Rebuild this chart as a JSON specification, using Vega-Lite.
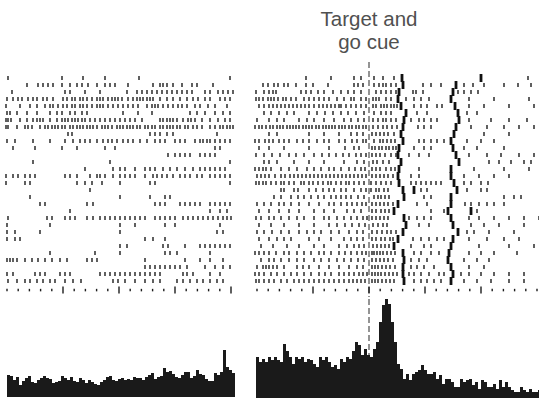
{
"$schema": "https://vega.github.io/schema/vega-lite/v6.json",
"padding": {"left": 5, "top": 0, "right": 0, "bottom": 1},
"background": "white",
"spacing": 18,
"config": {"view": {"stroke": null}},
"datasets": {
"L": [
{"r":1,"t":3},{"r":1,"t":57},{"r":1,"t":78},{"r":1,"t":100},{"r":1,"t":134},{"r":1,"t":225},
{"r":2,"t":22},{"r":2,"t":33},{"r":2,"t":38},{"r":2,"t":43},{"r":2,"t":48},{"r":2,"t":57},{"r":2,"t":65},{"r":2,"t":72},{"r":2,"t":77},{"r":2,"t":83},{"r":2,"t":92},{"r":2,"t":100},{"r":2,"t":105},{"r":2,"t":110},{"r":2,"t":123},{"r":2,"t":148},{"r":2,"t":155},{"r":2,"t":158},{"r":2,"t":162},{"r":2,"t":168},{"r":2,"t":177},{"r":2,"t":187},{"r":2,"t":192},{"r":2,"t":208},
{"r":3,"t":7},{"r":3,"t":60},{"r":3,"t":65},{"r":3,"t":80},{"r":3,"t":95},{"r":3,"t":122},{"r":3,"t":132},{"r":3,"t":137},{"r":3,"t":142},{"r":3,"t":147},{"r":3,"t":152},{"r":3,"t":157},{"r":3,"t":162},{"r":3,"t":167},{"r":3,"t":172},{"r":3,"t":177},{"r":3,"t":182},{"r":3,"t":187},{"r":3,"t":200},{"r":3,"t":205},{"r":3,"t":213},{"r":3,"t":218},{"r":3,"t":223},{"r":3,"t":228},
{"r":4,"t":2},{"r":4,"t":8},{"r":4,"t":13},{"r":4,"t":17},{"r":4,"t":23},{"r":4,"t":28},{"r":4,"t":32},{"r":4,"t":38},{"r":4,"t":42},{"r":4,"t":48},{"r":4,"t":58},{"r":4,"t":62},{"r":4,"t":67},{"r":4,"t":70},{"r":4,"t":75},{"r":4,"t":78},{"r":4,"t":82},{"r":4,"t":87},{"r":4,"t":92},{"r":4,"t":95},{"r":4,"t":98},{"r":4,"t":103},{"r":4,"t":107},{"r":4,"t":110},{"r":4,"t":113},{"r":4,"t":117},{"r":4,"t":123},{"r":4,"t":128},{"r":4,"t":132},{"r":4,"t":135},{"r":4,"t":138},{"r":4,"t":142},{"r":4,"t":145},{"r":4,"t":148},{"r":4,"t":155},{"r":4,"t":162},{"r":4,"t":168},{"r":4,"t":175},{"r":4,"t":182},{"r":4,"t":188},{"r":4,"t":193},{"r":4,"t":200},{"r":4,"t":205},{"r":4,"t":215},{"r":4,"t":220},{"r":4,"t":225},
{"r":5,"t":1},{"r":5,"t":15},{"r":5,"t":25},{"r":5,"t":32},{"r":5,"t":40},{"r":5,"t":45},{"r":5,"t":48},{"r":5,"t":53},{"r":5,"t":58},{"r":5,"t":62},{"r":5,"t":67},{"r":5,"t":70},{"r":5,"t":75},{"r":5,"t":78},{"r":5,"t":82},{"r":5,"t":87},{"r":5,"t":92},{"r":5,"t":95},{"r":5,"t":98},{"r":5,"t":103},{"r":5,"t":108},{"r":5,"t":113},{"r":5,"t":118},{"r":5,"t":123},{"r":5,"t":128},{"r":5,"t":133},{"r":5,"t":142},{"r":5,"t":147},{"r":5,"t":150},{"r":5,"t":153},{"r":5,"t":158},{"r":5,"t":163},{"r":5,"t":168},{"r":5,"t":173},{"r":5,"t":177},{"r":5,"t":182},{"r":5,"t":190},{"r":5,"t":195},{"r":5,"t":203},{"r":5,"t":210},{"r":5,"t":222},
{"r":6,"t":2},{"r":6,"t":5},{"r":6,"t":12},{"r":6,"t":22},{"r":6,"t":32},{"r":6,"t":45},{"r":6,"t":52},{"r":6,"t":57},{"r":6,"t":65},{"r":6,"t":70},{"r":6,"t":77},{"r":6,"t":82},{"r":6,"t":118},{"r":6,"t":133},{"r":6,"t":147},{"r":6,"t":185},{"r":6,"t":192},{"r":6,"t":200},{"r":6,"t":210},{"r":6,"t":218},{"r":6,"t":225},
{"r":7,"t":1},{"r":7,"t":3},{"r":7,"t":6},{"r":7,"t":15},{"r":7,"t":22},{"r":7,"t":28},{"r":7,"t":32},{"r":7,"t":35},{"r":7,"t":38},{"r":7,"t":45},{"r":7,"t":52},{"r":7,"t":57},{"r":7,"t":60},{"r":7,"t":63},{"r":7,"t":67},{"r":7,"t":70},{"r":7,"t":73},{"r":7,"t":77},{"r":7,"t":80},{"r":7,"t":85},{"r":7,"t":90},{"r":7,"t":95},{"r":7,"t":100},{"r":7,"t":105},{"r":7,"t":110},{"r":7,"t":115},{"r":7,"t":120},{"r":7,"t":125},{"r":7,"t":130},{"r":7,"t":137},{"r":7,"t":155},{"r":7,"t":158},{"r":7,"t":162},{"r":7,"t":165},{"r":7,"t":168},{"r":7,"t":172},{"r":7,"t":178},{"r":7,"t":183},{"r":7,"t":186},{"r":7,"t":190},{"r":7,"t":197},{"r":7,"t":205},{"r":7,"t":213},{"r":7,"t":220},{"r":7,"t":225},
{"r":8,"t":1},{"r":8,"t":3},{"r":8,"t":12},{"r":8,"t":20},{"r":8,"t":23},{"r":8,"t":27},{"r":8,"t":35},{"r":8,"t":40},{"r":8,"t":43},{"r":8,"t":47},{"r":8,"t":50},{"r":8,"t":53},{"r":8,"t":57},{"r":8,"t":60},{"r":8,"t":65},{"r":8,"t":68},{"r":8,"t":72},{"r":8,"t":75},{"r":8,"t":78},{"r":8,"t":82},{"r":8,"t":85},{"r":8,"t":88},{"r":8,"t":92},{"r":8,"t":97},{"r":8,"t":100},{"r":8,"t":103},{"r":8,"t":107},{"r":8,"t":112},{"r":8,"t":115},{"r":8,"t":118},{"r":8,"t":122},{"r":8,"t":125},{"r":8,"t":128},{"r":8,"t":132},{"r":8,"t":135},{"r":8,"t":140},{"r":8,"t":143},{"r":8,"t":147},{"r":8,"t":150},{"r":8,"t":155},{"r":8,"t":158},{"r":8,"t":162},{"r":8,"t":165},{"r":8,"t":168},{"r":8,"t":172},{"r":8,"t":175},{"r":8,"t":180},{"r":8,"t":183},{"r":8,"t":188},{"r":8,"t":192},{"r":8,"t":197},{"r":8,"t":205},{"r":8,"t":210},{"r":8,"t":215},{"r":8,"t":218},{"r":8,"t":222},{"r":8,"t":225},{"r":8,"t":228},
{"r":9,"t":63},{"r":9,"t":67},{"r":9,"t":145},{"r":9,"t":150},{"r":9,"t":155},{"r":9,"t":162},{"r":9,"t":168},{"r":9,"t":212},
{"r":10,"t":2},{"r":10,"t":10},{"r":10,"t":28},{"r":10,"t":45},{"r":10,"t":60},{"r":10,"t":68},{"r":10,"t":75},{"r":10,"t":80},{"r":10,"t":85},{"r":10,"t":92},{"r":10,"t":98},{"r":10,"t":103},{"r":10,"t":107},{"r":10,"t":112},{"r":10,"t":118},{"r":10,"t":123},{"r":10,"t":128},{"r":10,"t":135},{"r":10,"t":142},{"r":10,"t":150},{"r":10,"t":155},{"r":10,"t":160},{"r":10,"t":170},{"r":10,"t":175},{"r":10,"t":180},{"r":10,"t":190},{"r":10,"t":195},{"r":10,"t":198},{"r":10,"t":202},{"r":10,"t":205},{"r":10,"t":210},{"r":10,"t":215},{"r":10,"t":220},{"r":10,"t":225},
{"r":11,"t":8},{"r":11,"t":30},{"r":11,"t":57},{"r":11,"t":72},{"r":11,"t":100},{"r":11,"t":110},{"r":11,"t":210},{"r":11,"t":215},
{"r":12,"t":163},{"r":12,"t":170},{"r":12,"t":175},{"r":12,"t":180},{"r":12,"t":185},{"r":12,"t":195},{"r":12,"t":200},{"r":12,"t":205},{"r":12,"t":210},
{"r":13,"t":28},{"r":13,"t":105},{"r":13,"t":225},
{"r":14,"t":80},{"r":14,"t":108},{"r":14,"t":115},{"r":14,"t":120},{"r":14,"t":130},{"r":14,"t":140},{"r":14,"t":145},{"r":14,"t":150},{"r":14,"t":158},{"r":14,"t":165},{"r":14,"t":172},{"r":14,"t":180},{"r":14,"t":188},{"r":14,"t":195},{"r":14,"t":200},{"r":14,"t":205},{"r":14,"t":210},{"r":14,"t":215},{"r":14,"t":220},
{"r":15,"t":1},{"r":15,"t":8},{"r":15,"t":13},{"r":15,"t":20},{"r":15,"t":25},{"r":15,"t":30},{"r":15,"t":60},{"r":15,"t":65},{"r":15,"t":72},{"r":15,"t":85},{"r":15,"t":92},{"r":15,"t":95},{"r":15,"t":100},{"r":15,"t":108},{"r":15,"t":115},{"r":15,"t":120},{"r":15,"t":125},{"r":15,"t":130},{"r":15,"t":140},{"r":15,"t":148},{"r":15,"t":152},{"r":15,"t":157},{"r":15,"t":162},{"r":15,"t":168},{"r":15,"t":175},{"r":15,"t":180},{"r":15,"t":185},{"r":15,"t":192},{"r":15,"t":197},{"r":15,"t":205},{"r":15,"t":210},{"r":15,"t":215},{"r":15,"t":220},{"r":15,"t":225},
{"r":16,"t":1},{"r":16,"t":20},{"r":16,"t":25},{"r":16,"t":72},{"r":16,"t":80},{"r":16,"t":87},{"r":16,"t":97},{"r":16,"t":115},{"r":16,"t":145},{"r":16,"t":150},{"r":16,"t":225},
{"r":17,"t":85},
{"r":18,"t":25},{"r":18,"t":115},{"r":18,"t":145},{"r":18,"t":160},{"r":18,"t":165},
{"r":19,"t":35},{"r":19,"t":40},{"r":19,"t":82},{"r":19,"t":88},{"r":19,"t":150},{"r":19,"t":155},{"r":19,"t":160},{"r":19,"t":175},{"r":19,"t":180},{"r":19,"t":185},{"r":19,"t":190},{"r":19,"t":195},{"r":19,"t":205},{"r":19,"t":210},{"r":19,"t":215},{"r":19,"t":220},{"r":19,"t":225},
{"r":20,"t":65},{"r":20,"t":205},{"r":20,"t":215},{"r":20,"t":222},
{"r":21,"t":3},{"r":21,"t":42},{"r":21,"t":47},{"r":21,"t":60},{"r":21,"t":65},{"r":21,"t":70},{"r":21,"t":82},{"r":21,"t":88},{"r":21,"t":95},{"r":21,"t":100},{"r":21,"t":105},{"r":21,"t":110},{"r":21,"t":115},{"r":21,"t":120},{"r":21,"t":125},{"r":21,"t":130},{"r":21,"t":135},{"r":21,"t":140},{"r":21,"t":150},{"r":21,"t":155},{"r":21,"t":160},{"r":21,"t":165},{"r":21,"t":170},{"r":21,"t":178},{"r":21,"t":183},{"r":21,"t":188},{"r":21,"t":193},{"r":21,"t":198},{"r":21,"t":203},{"r":21,"t":208},{"r":21,"t":213},{"r":21,"t":218},{"r":21,"t":222},{"r":21,"t":226},
{"r":22,"t":2},{"r":22,"t":45},{"r":22,"t":115},{"r":22,"t":130},{"r":22,"t":160},{"r":22,"t":170},{"r":22,"t":215},
{"r":23,"t":2},{"r":23,"t":10},{"r":23,"t":35},{"r":23,"t":115},{"r":23,"t":212},{"r":23,"t":218},
{"r":24,"t":2},{"r":24,"t":10},{"r":24,"t":15},{"r":24,"t":140},{"r":24,"t":148},{"r":24,"t":160},
{"r":25,"t":115},{"r":25,"t":122},{"r":25,"t":158},{"r":25,"t":163},{"r":25,"t":180},{"r":25,"t":195},{"r":25,"t":200},{"r":25,"t":205},{"r":25,"t":210},{"r":25,"t":215},{"r":25,"t":220},{"r":25,"t":225},
{"r":26,"t":45},{"r":26,"t":90},{"r":26,"t":115},{"r":26,"t":160},{"r":26,"t":165},{"r":26,"t":172},{"r":26,"t":205},
{"r":27,"t":2},{"r":27,"t":5},{"r":27,"t":8},{"r":27,"t":12},{"r":27,"t":20},{"r":27,"t":27},{"r":27,"t":33},{"r":27,"t":40},{"r":27,"t":47},{"r":27,"t":55},{"r":27,"t":62},{"r":27,"t":82},{"r":27,"t":87},{"r":27,"t":92},{"r":27,"t":140},{"r":27,"t":180},{"r":27,"t":195},{"r":27,"t":205},{"r":27,"t":218},
{"r":28,"t":140},{"r":28,"t":145},{"r":28,"t":150},{"r":28,"t":155},{"r":28,"t":160},{"r":28,"t":165},{"r":28,"t":170},{"r":28,"t":175},{"r":28,"t":182},{"r":28,"t":200},{"r":28,"t":210},{"r":28,"t":218},{"r":28,"t":225},
{"r":29,"t":2},{"r":29,"t":8},{"r":29,"t":30},{"r":29,"t":35},{"r":29,"t":40},{"r":29,"t":55},{"r":29,"t":60},{"r":29,"t":65},{"r":29,"t":95},{"r":29,"t":100},{"r":29,"t":105},{"r":29,"t":110},{"r":29,"t":115},{"r":29,"t":120},{"r":29,"t":125},{"r":29,"t":130},{"r":29,"t":135},{"r":29,"t":140},{"r":29,"t":145},{"r":29,"t":150},{"r":29,"t":155},{"r":29,"t":178},{"r":29,"t":182},{"r":29,"t":188},{"r":29,"t":205},{"r":29,"t":215},
{"r":30,"t":3},{"r":30,"t":12},{"r":30,"t":20},{"r":30,"t":25},{"r":30,"t":32},{"r":30,"t":38},{"r":30,"t":45},{"r":30,"t":50},{"r":30,"t":60},{"r":30,"t":68},{"r":30,"t":76},{"r":30,"t":108},{"r":30,"t":113},{"r":30,"t":120},{"r":30,"t":130},{"r":30,"t":140},{"r":30,"t":148},{"r":30,"t":155},{"r":30,"t":172},{"r":30,"t":178},{"r":30,"t":185},{"r":30,"t":192},{"r":30,"t":198},{"r":30,"t":205},{"r":30,"t":212},{"r":30,"t":218}
],
"R": [
{"r":1,"t":-63},{"r":1,"t":-38},{"r":1,"t":-15},{"r":1,"t":-8},{"r":1,"t":5},{"r":1,"t":14},{"r":1,"t":25},{"r":1,"t":159},
{"r":2,"t":-106},{"r":2,"t":-101},{"r":2,"t":-95},{"r":2,"t":-91},{"r":2,"t":-85},{"r":2,"t":-81},{"r":2,"t":-73},{"r":2,"t":-63},{"r":2,"t":-56},{"r":2,"t":-41},{"r":2,"t":-15},{"r":2,"t":-11},{"r":2,"t":-6},{"r":2,"t":5},{"r":2,"t":10},{"r":2,"t":14},{"r":2,"t":17},{"r":2,"t":22},{"r":2,"t":27},{"r":2,"t":54},{"r":2,"t":62},{"r":2,"t":72},{"r":2,"t":95},{"r":2,"t":104},{"r":2,"t":115},{"r":2,"t":135},{"r":2,"t":149},{"r":2,"t":162},
{"r":3,"t":-113},{"r":3,"t":-105},{"r":3,"t":-100},{"r":3,"t":-96},{"r":3,"t":-93},{"r":3,"t":-68},{"r":3,"t":-63},{"r":3,"t":-58},{"r":3,"t":-51},{"r":3,"t":-45},{"r":3,"t":-36},{"r":3,"t":-28},{"r":3,"t":-21},{"r":3,"t":-15},{"r":3,"t":-8},{"r":3,"t":7},{"r":3,"t":12},{"r":3,"t":17},{"r":3,"t":22},{"r":3,"t":27},{"r":3,"t":44},{"r":3,"t":47},{"r":3,"t":54},{"r":3,"t":89},{"r":3,"t":95},{"r":3,"t":102},{"r":3,"t":109},
{"r":4,"t":-113},{"r":4,"t":-110},{"r":4,"t":-106},{"r":4,"t":-101},{"r":4,"t":-98},{"r":4,"t":-95},{"r":4,"t":-91},{"r":4,"t":-86},{"r":4,"t":-83},{"r":4,"t":-78},{"r":4,"t":-73},{"r":4,"t":-65},{"r":4,"t":-60},{"r":4,"t":-55},{"r":4,"t":-50},{"r":4,"t":-45},{"r":4,"t":-40},{"r":4,"t":-32},{"r":4,"t":-25},{"r":4,"t":-18},{"r":4,"t":-15},{"r":4,"t":-8},{"r":4,"t":-3},{"r":4,"t":4},{"r":4,"t":7},{"r":4,"t":10},{"r":4,"t":17},{"r":4,"t":22},{"r":4,"t":37},{"r":4,"t":45},{"r":4,"t":52},{"r":4,"t":60},{"r":4,"t":100},{"r":4,"t":125},{"r":4,"t":160},
{"r":5,"t":-110},{"r":5,"t":-105},{"r":5,"t":-100},{"r":5,"t":-96},{"r":5,"t":-92},{"r":5,"t":-88},{"r":5,"t":-84},{"r":5,"t":-80},{"r":5,"t":-76},{"r":5,"t":-72},{"r":5,"t":-68},{"r":5,"t":-64},{"r":5,"t":-60},{"r":5,"t":-55},{"r":5,"t":-50},{"r":5,"t":-46},{"r":5,"t":-42},{"r":5,"t":-38},{"r":5,"t":-34},{"r":5,"t":-30},{"r":5,"t":-28},{"r":5,"t":-23},{"r":5,"t":-18},{"r":5,"t":-13},{"r":5,"t":-8},{"r":5,"t":-3},{"r":5,"t":4},{"r":5,"t":7},{"r":5,"t":12},{"r":5,"t":15},{"r":5,"t":18},{"r":5,"t":22},{"r":5,"t":25},{"r":5,"t":28},{"r":5,"t":45},{"r":5,"t":52},{"r":5,"t":58},{"r":5,"t":68},{"r":5,"t":73},{"r":5,"t":100},{"r":5,"t":115},{"r":5,"t":140},{"r":5,"t":165},
{"r":6,"t":-105},{"r":6,"t":-98},{"r":6,"t":-90},{"r":6,"t":-82},{"r":6,"t":-75},{"r":6,"t":-60},{"r":6,"t":-52},{"r":6,"t":-44},{"r":6,"t":-36},{"r":6,"t":-28},{"r":6,"t":-21},{"r":6,"t":-13},{"r":6,"t":-5},{"r":6,"t":5},{"r":6,"t":12},{"r":6,"t":17},{"r":6,"t":22},{"r":6,"t":48},{"r":6,"t":58},{"r":6,"t":98},{"r":6,"t":108},
{"r":7,"t":-112},{"r":7,"t":-100},{"r":7,"t":-92},{"r":7,"t":-85},{"r":7,"t":-70},{"r":7,"t":-62},{"r":7,"t":-55},{"r":7,"t":-45},{"r":7,"t":-35},{"r":7,"t":-25},{"r":7,"t":-18},{"r":7,"t":-11},{"r":7,"t":-5},{"r":7,"t":4},{"r":7,"t":9},{"r":7,"t":14},{"r":7,"t":17},{"r":7,"t":22},{"r":7,"t":27},{"r":7,"t":42},{"r":7,"t":50},{"r":7,"t":55},{"r":7,"t":62},{"r":7,"t":68},{"r":7,"t":100},{"r":7,"t":122},{"r":7,"t":140},{"r":7,"t":158},
{"r":8,"t":-114},{"r":8,"t":-110},{"r":8,"t":-107},{"r":8,"t":-103},{"r":8,"t":-99},{"r":8,"t":-96},{"r":8,"t":-92},{"r":8,"t":-89},{"r":8,"t":-86},{"r":8,"t":-82},{"r":8,"t":-79},{"r":8,"t":-76},{"r":8,"t":-73},{"r":8,"t":-70},{"r":8,"t":-66},{"r":8,"t":-63},{"r":8,"t":-60},{"r":8,"t":-57},{"r":8,"t":-53},{"r":8,"t":-50},{"r":8,"t":-46},{"r":8,"t":-43},{"r":8,"t":-40},{"r":8,"t":-37},{"r":8,"t":-34},{"r":8,"t":-30},{"r":8,"t":-27},{"r":8,"t":-24},{"r":8,"t":-20},{"r":8,"t":-17},{"r":8,"t":-13},{"r":8,"t":-10},{"r":8,"t":-6},{"r":8,"t":-3},{"r":8,"t":4},{"r":8,"t":9},{"r":8,"t":14},{"r":8,"t":18},{"r":8,"t":23},{"r":8,"t":28},{"r":8,"t":49},{"r":8,"t":55},{"r":8,"t":62},{"r":8,"t":102},{"r":8,"t":118},{"r":8,"t":135},{"r":8,"t":150},{"r":8,"t":165},
{"r":9,"t":-100},{"r":9,"t":-92},{"r":9,"t":-60},{"r":9,"t":-45},{"r":9,"t":-30},{"r":9,"t":-18},{"r":9,"t":-12},{"r":9,"t":-6},{"r":9,"t":3},{"r":9,"t":7},{"r":9,"t":11},{"r":9,"t":15},{"r":9,"t":19},{"r":9,"t":25},{"r":9,"t":115},{"r":9,"t":140},
{"r":10,"t":-114},{"r":10,"t":-110},{"r":10,"t":-104},{"r":10,"t":-100},{"r":10,"t":-96},{"r":10,"t":-90},{"r":10,"t":-85},{"r":10,"t":-80},{"r":10,"t":-72},{"r":10,"t":-66},{"r":10,"t":-60},{"r":10,"t":-52},{"r":10,"t":-45},{"r":10,"t":-40},{"r":10,"t":-30},{"r":10,"t":-24},{"r":10,"t":-17},{"r":10,"t":-12},{"r":10,"t":-6},{"r":10,"t":-3},{"r":10,"t":5},{"r":10,"t":11},{"r":10,"t":14},{"r":10,"t":18},{"r":10,"t":22},{"r":10,"t":26},{"r":10,"t":50},{"r":10,"t":55},{"r":10,"t":62},{"r":10,"t":68},{"r":10,"t":75},{"r":10,"t":98},{"r":10,"t":112},{"r":10,"t":125},
{"r":11,"t":-110},{"r":11,"t":-100},{"r":11,"t":-85},{"r":11,"t":-60},{"r":11,"t":-40},{"r":11,"t":-24},{"r":11,"t":-15},{"r":11,"t":-10},{"r":11,"t":3},{"r":11,"t":6},{"r":11,"t":10},{"r":11,"t":13},{"r":11,"t":17},{"r":11,"t":20},{"r":11,"t":24},{"r":11,"t":27},{"r":11,"t":45},{"r":11,"t":55},{"r":11,"t":62},{"r":11,"t":95},{"r":11,"t":108},{"r":11,"t":135},
{"r":12,"t":-113},{"r":12,"t":-105},{"r":12,"t":-97},{"r":12,"t":-89},{"r":12,"t":-80},{"r":12,"t":-73},{"r":12,"t":-65},{"r":12,"t":-55},{"r":12,"t":-47},{"r":12,"t":-40},{"r":12,"t":-33},{"r":12,"t":-26},{"r":12,"t":-20},{"r":12,"t":-13},{"r":12,"t":-8},{"r":12,"t":-3},{"r":12,"t":3},{"r":12,"t":7},{"r":12,"t":11},{"r":12,"t":16},{"r":12,"t":22},{"r":12,"t":27},{"r":12,"t":40},{"r":12,"t":50},{"r":12,"t":60},{"r":12,"t":100},{"r":12,"t":118},{"r":12,"t":132},{"r":12,"t":150},{"r":12,"t":165},
{"r":13,"t":-105},{"r":13,"t":-100},{"r":13,"t":-92},{"r":13,"t":-75},{"r":13,"t":-60},{"r":13,"t":-45},{"r":13,"t":-25},{"r":13,"t":-12},{"r":13,"t":-5},{"r":13,"t":4},{"r":13,"t":8},{"r":13,"t":14},{"r":13,"t":20},{"r":13,"t":120},{"r":13,"t":130},{"r":13,"t":142},{"r":13,"t":155},{"r":13,"t":162},
{"r":14,"t":-114},{"r":14,"t":-110},{"r":14,"t":-106},{"r":14,"t":-103},{"r":14,"t":-98},{"r":14,"t":-88},{"r":14,"t":-80},{"r":14,"t":-72},{"r":14,"t":-62},{"r":14,"t":-55},{"r":14,"t":-48},{"r":14,"t":-40},{"r":14,"t":-35},{"r":14,"t":-28},{"r":14,"t":-20},{"r":14,"t":-14},{"r":14,"t":-8},{"r":14,"t":-4},{"r":14,"t":3},{"r":14,"t":7},{"r":14,"t":11},{"r":14,"t":17},{"r":14,"t":22},{"r":14,"t":26},{"r":14,"t":50},{"r":14,"t":105},{"r":14,"t":135},{"r":14,"t":160},
{"r":15,"t":-112},{"r":15,"t":-108},{"r":15,"t":-104},{"r":15,"t":-100},{"r":15,"t":-94},{"r":15,"t":-88},{"r":15,"t":-84},{"r":15,"t":-79},{"r":15,"t":-75},{"r":15,"t":-71},{"r":15,"t":-67},{"r":15,"t":-63},{"r":15,"t":-59},{"r":15,"t":-55},{"r":15,"t":-51},{"r":15,"t":-47},{"r":15,"t":-43},{"r":15,"t":-39},{"r":15,"t":-35},{"r":15,"t":-31},{"r":15,"t":-27},{"r":15,"t":-23},{"r":15,"t":-19},{"r":15,"t":-15},{"r":15,"t":-11},{"r":15,"t":-7},{"r":15,"t":-3},{"r":15,"t":3},{"r":15,"t":7},{"r":15,"t":11},{"r":15,"t":15},{"r":15,"t":19},{"r":15,"t":24},{"r":15,"t":42},{"r":15,"t":50},{"r":15,"t":95},{"r":15,"t":110},{"r":15,"t":125},{"r":15,"t":140},
{"r":16,"t":-113},{"r":16,"t":-110},{"r":16,"t":-106},{"r":16,"t":-103},{"r":16,"t":-98},{"r":16,"t":-93},{"r":16,"t":-88},{"r":16,"t":-85},{"r":16,"t":-80},{"r":16,"t":-75},{"r":16,"t":-68},{"r":16,"t":-65},{"r":16,"t":-60},{"r":16,"t":-56},{"r":16,"t":-51},{"r":16,"t":-46},{"r":16,"t":-41},{"r":16,"t":-38},{"r":16,"t":-33},{"r":16,"t":-28},{"r":16,"t":-23},{"r":16,"t":-20},{"r":16,"t":-15},{"r":16,"t":-10},{"r":16,"t":-5},{"r":16,"t":2},{"r":16,"t":7},{"r":16,"t":12},{"r":16,"t":17},{"r":16,"t":22},{"r":16,"t":42},{"r":16,"t":47},{"r":16,"t":52},{"r":16,"t":57},{"r":16,"t":62},{"r":16,"t":67},{"r":16,"t":72},{"r":16,"t":95},{"r":16,"t":102},{"r":16,"t":112},{"r":16,"t":119},
{"r":17,"t":-88},{"r":17,"t":-85},{"r":17,"t":-75},{"r":17,"t":-71},{"r":17,"t":-60},{"r":17,"t":-53},{"r":17,"t":-46},{"r":17,"t":-40},{"r":17,"t":-35},{"r":17,"t":-28},{"r":17,"t":-23},{"r":17,"t":-15},{"r":17,"t":-8},{"r":17,"t":-3},{"r":17,"t":2},{"r":17,"t":7},{"r":17,"t":10},{"r":17,"t":15},{"r":17,"t":19},{"r":17,"t":52},{"r":17,"t":58},{"r":17,"t":98},{"r":17,"t":112},{"r":17,"t":118},
{"r":18,"t":-95},{"r":18,"t":-88},{"r":18,"t":-78},{"r":18,"t":-71},{"r":18,"t":-65},{"r":18,"t":-58},{"r":18,"t":-51},{"r":18,"t":-45},{"r":18,"t":-38},{"r":18,"t":-33},{"r":18,"t":-28},{"r":18,"t":-23},{"r":18,"t":-18},{"r":18,"t":-11},{"r":18,"t":-5},{"r":18,"t":5},{"r":18,"t":9},{"r":18,"t":12},{"r":18,"t":16},{"r":18,"t":20},{"r":18,"t":55},{"r":18,"t":62},{"r":18,"t":135},{"r":18,"t":145},{"r":18,"t":152},
{"r":19,"t":-112},{"r":19,"t":-105},{"r":19,"t":-98},{"r":19,"t":-90},{"r":19,"t":-85},{"r":19,"t":-78},{"r":19,"t":-70},{"r":19,"t":-60},{"r":19,"t":-50},{"r":19,"t":-40},{"r":19,"t":-35},{"r":19,"t":-28},{"r":19,"t":-22},{"r":19,"t":-17},{"r":19,"t":-12},{"r":19,"t":-7},{"r":19,"t":-3},{"r":19,"t":3},{"r":19,"t":7},{"r":19,"t":11},{"r":19,"t":15},{"r":19,"t":19},{"r":19,"t":24},{"r":19,"t":48},{"r":19,"t":58},{"r":19,"t":96},{"r":19,"t":102},{"r":19,"t":110},{"r":19,"t":118},{"r":19,"t":125},{"r":19,"t":135},
{"r":20,"t":-110},{"r":20,"t":-100},{"r":20,"t":-90},{"r":20,"t":-80},{"r":20,"t":-70},{"r":20,"t":-55},{"r":20,"t":-45},{"r":20,"t":-35},{"r":20,"t":-22},{"r":20,"t":-15},{"r":20,"t":-8},{"r":20,"t":3},{"r":20,"t":7},{"r":20,"t":12},{"r":20,"t":16},{"r":20,"t":20},{"r":20,"t":62},{"r":20,"t":75},{"r":20,"t":108},
{"r":21,"t":-113},{"r":21,"t":-108},{"r":21,"t":-100},{"r":21,"t":-95},{"r":21,"t":-88},{"r":21,"t":-80},{"r":21,"t":-72},{"r":21,"t":-65},{"r":21,"t":-55},{"r":21,"t":-45},{"r":21,"t":-40},{"r":21,"t":-32},{"r":21,"t":-25},{"r":21,"t":-18},{"r":21,"t":-12},{"r":21,"t":-6},{"r":21,"t":-2},{"r":21,"t":3},{"r":21,"t":7},{"r":21,"t":11},{"r":21,"t":15},{"r":21,"t":19},{"r":21,"t":40},{"r":21,"t":48},{"r":21,"t":55},{"r":21,"t":62},{"r":21,"t":100},{"r":21,"t":110},{"r":21,"t":125},{"r":21,"t":140},{"r":21,"t":155},{"r":21,"t":170},
{"r":22,"t":-110},{"r":22,"t":-98},{"r":22,"t":-85},{"r":22,"t":-70},{"r":22,"t":-55},{"r":22,"t":-40},{"r":22,"t":-32},{"r":22,"t":-24},{"r":22,"t":-17},{"r":22,"t":-10},{"r":22,"t":-4},{"r":22,"t":4},{"r":22,"t":9},{"r":22,"t":14},{"r":22,"t":18},{"r":22,"t":50},{"r":22,"t":60},{"r":22,"t":102},{"r":22,"t":115},{"r":22,"t":130},{"r":22,"t":155},
{"r":23,"t":-112},{"r":23,"t":-105},{"r":23,"t":-97},{"r":23,"t":-88},{"r":23,"t":-80},{"r":23,"t":-70},{"r":23,"t":-62},{"r":23,"t":-55},{"r":23,"t":-48},{"r":23,"t":-38},{"r":23,"t":-30},{"r":23,"t":-20},{"r":23,"t":-12},{"r":23,"t":-6},{"r":23,"t":3},{"r":23,"t":8},{"r":23,"t":13},{"r":23,"t":18},{"r":23,"t":22},{"r":23,"t":27},{"r":23,"t":98},{"r":23,"t":105},{"r":23,"t":120},{"r":23,"t":145},
{"r":24,"t":-110},{"r":24,"t":-100},{"r":24,"t":-92},{"r":24,"t":-85},{"r":24,"t":-78},{"r":24,"t":-60},{"r":24,"t":-50},{"r":24,"t":-38},{"r":24,"t":-25},{"r":24,"t":-18},{"r":24,"t":-12},{"r":24,"t":-6},{"r":24,"t":3},{"r":24,"t":7},{"r":24,"t":12},{"r":24,"t":16},{"r":24,"t":21},{"r":24,"t":24},{"r":24,"t":44},{"r":24,"t":52},{"r":24,"t":60},{"r":24,"t":68},{"r":24,"t":75},{"r":24,"t":100},{"r":24,"t":118},{"r":24,"t":135},{"r":24,"t":150},
{"r":25,"t":-108},{"r":25,"t":-96},{"r":25,"t":-82},{"r":25,"t":-70},{"r":25,"t":-55},{"r":25,"t":-45},{"r":25,"t":-30},{"r":25,"t":-22},{"r":25,"t":-15},{"r":25,"t":-10},{"r":25,"t":-5},{"r":25,"t":4},{"r":25,"t":8},{"r":25,"t":12},{"r":25,"t":16},{"r":25,"t":20},{"r":25,"t":42},{"r":25,"t":55},{"r":25,"t":62},{"r":25,"t":110},{"r":25,"t":140},{"r":25,"t":165},
{"r":26,"t":-114},{"r":26,"t":-110},{"r":26,"t":-105},{"r":26,"t":-100},{"r":26,"t":-93},{"r":26,"t":-85},{"r":26,"t":-80},{"r":26,"t":-72},{"r":26,"t":-65},{"r":26,"t":-58},{"r":26,"t":-50},{"r":26,"t":-45},{"r":26,"t":-38},{"r":26,"t":-30},{"r":26,"t":-24},{"r":26,"t":-18},{"r":26,"t":-12},{"r":26,"t":-7},{"r":26,"t":-3},{"r":26,"t":3},{"r":26,"t":5},{"r":26,"t":8},{"r":26,"t":11},{"r":26,"t":14},{"r":26,"t":18},{"r":26,"t":22},{"r":26,"t":26},{"r":26,"t":45},{"r":26,"t":52},{"r":26,"t":62},{"r":26,"t":70},{"r":26,"t":100},{"r":26,"t":112},{"r":26,"t":125},{"r":26,"t":148},
{"r":27,"t":-108},{"r":27,"t":-100},{"r":27,"t":-95},{"r":27,"t":-88},{"r":27,"t":-80},{"r":27,"t":-72},{"r":27,"t":-65},{"r":27,"t":-55},{"r":27,"t":-48},{"r":27,"t":-40},{"r":27,"t":-32},{"r":27,"t":-25},{"r":27,"t":-18},{"r":27,"t":-11},{"r":27,"t":-5},{"r":27,"t":3},{"r":27,"t":7},{"r":27,"t":11},{"r":27,"t":15},{"r":27,"t":19},{"r":27,"t":24},{"r":27,"t":42},{"r":27,"t":50},{"r":27,"t":58},{"r":27,"t":95},{"r":27,"t":108},{"r":27,"t":120},
{"r":28,"t":-112},{"r":28,"t":-106},{"r":28,"t":-103},{"r":28,"t":-100},{"r":28,"t":-96},{"r":28,"t":-92},{"r":28,"t":-85},{"r":28,"t":-72},{"r":28,"t":-66},{"r":28,"t":-60},{"r":28,"t":-50},{"r":28,"t":-40},{"r":28,"t":-30},{"r":28,"t":-20},{"r":28,"t":-12},{"r":28,"t":-6},{"r":28,"t":3},{"r":28,"t":6},{"r":28,"t":9},{"r":28,"t":13},{"r":28,"t":17},{"r":28,"t":21},{"r":28,"t":26},{"r":28,"t":42},{"r":28,"t":48},{"r":28,"t":55},{"r":28,"t":65},{"r":28,"t":100},{"r":28,"t":115},
{"r":29,"t":-114},{"r":29,"t":-110},{"r":29,"t":-105},{"r":29,"t":-98},{"r":29,"t":-92},{"r":29,"t":-85},{"r":29,"t":-78},{"r":29,"t":-72},{"r":29,"t":-65},{"r":29,"t":-58},{"r":29,"t":-50},{"r":29,"t":-44},{"r":29,"t":-38},{"r":29,"t":-30},{"r":29,"t":-25},{"r":29,"t":-20},{"r":29,"t":-15},{"r":29,"t":-10},{"r":29,"t":-6},{"r":29,"t":-2},{"r":29,"t":3},{"r":29,"t":6},{"r":29,"t":9},{"r":29,"t":12},{"r":29,"t":16},{"r":29,"t":20},{"r":29,"t":24},{"r":29,"t":28},{"r":29,"t":40},{"r":29,"t":45},{"r":29,"t":52},{"r":29,"t":60},{"r":29,"t":70},{"r":29,"t":75},{"r":29,"t":92},{"r":29,"t":100},{"r":29,"t":112},{"r":29,"t":125},{"r":29,"t":140},{"r":29,"t":155},
{"r":30,"t":-113},{"r":30,"t":-110},{"r":30,"t":-105},{"r":30,"t":-100},{"r":30,"t":-95},{"r":30,"t":-88},{"r":30,"t":-82},{"r":30,"t":-75},{"r":30,"t":-70},{"r":30,"t":-65},{"r":30,"t":-60},{"r":30,"t":-55},{"r":30,"t":-50},{"r":30,"t":-45},{"r":30,"t":-40},{"r":30,"t":-35},{"r":30,"t":-30},{"r":30,"t":-25},{"r":30,"t":-20},{"r":30,"t":-16},{"r":30,"t":-12},{"r":30,"t":-8},{"r":30,"t":-4},{"r":30,"t":3},{"r":30,"t":6},{"r":30,"t":9},{"r":30,"t":13},{"r":30,"t":17},{"r":30,"t":21},{"r":30,"t":25},{"r":30,"t":45},{"r":30,"t":52},{"r":30,"t":58},{"r":30,"t":65},{"r":30,"t":72},{"r":30,"t":95},{"r":30,"t":108},{"r":30,"t":122},{"r":30,"t":140},{"r":30,"t":155}
],
"RE": [
{"r":1,"t":33},{"r":1,"t":112},{"r":2,"t":34},{"r":2,"t":87},{"r":3,"t":30},{"r":3,"t":84},{"r":4,"t":29},{"r":4,"t":82},{"r":5,"t":32},{"r":5,"t":86},{"r":6,"t":37},{"r":6,"t":89},{"r":7,"t":35},{"r":7,"t":90},{"r":8,"t":34},{"r":8,"t":87},{"r":9,"t":32},{"r":9,"t":85},{"r":10,"t":34},{"r":10,"t":82},{"r":11,"t":30},{"r":11,"t":84},{"r":12,"t":29},{"r":12,"t":87},{"r":13,"t":32},{"r":13,"t":90},{"r":14,"t":30},{"r":14,"t":82},{"r":15,"t":29},{"r":15,"t":82},{"r":16,"t":30},{"r":16,"t":85},{"r":17,"t":34},{"r":17,"t":88},{"r":17,"t":45},{"r":18,"t":35},{"r":18,"t":82},{"r":19,"t":29},{"r":19,"t":82},{"r":20,"t":25},{"r":20,"t":79},{"r":20,"t":102},{"r":21,"t":35},{"r":21,"t":82},{"r":22,"t":37},{"r":22,"t":84},{"r":23,"t":34},{"r":23,"t":89},{"r":24,"t":29},{"r":24,"t":84},{"r":25,"t":25},{"r":25,"t":82},{"r":26,"t":34},{"r":26,"t":80},{"r":27,"t":35},{"r":27,"t":79},{"r":28,"t":34},{"r":28,"t":82},{"r":29,"t":34},{"r":29,"t":84},{"r":30,"t":35},{"r":30,"t":82}
],
"LT": [
{"t":2,"m":0},{"t":13.2,"m":0},{"t":24.4,"m":0},{"t":35.6,"m":0},{"t":46.8,"m":0},{"t":58,"m":1},{"t":69.2,"m":0},{"t":80.4,"m":0},{"t":91.6,"m":0},{"t":102.8,"m":0},{"t":114,"m":1},{"t":125.2,"m":0},{"t":136.4,"m":0},{"t":147.6,"m":0},{"t":158.8,"m":0},{"t":170,"m":1},{"t":181.2,"m":0},{"t":192.4,"m":0},{"t":203.6,"m":0},{"t":214.8,"m":0},{"t":226,"m":1}
],
"RT": [
{"t":-112,"m":0},{"t":-100.8,"m":0},{"t":-89.6,"m":0},{"t":-78.4,"m":0},{"t":-67.2,"m":0},{"t":-56,"m":1},{"t":-44.8,"m":0},{"t":-33.6,"m":0},{"t":-22.4,"m":0},{"t":-11.2,"m":0},{"t":0,"m":1},{"t":11.2,"m":0},{"t":22.4,"m":0},{"t":33.6,"m":0},{"t":44.8,"m":0},{"t":56,"m":1},{"t":67.2,"m":0},{"t":78.4,"m":0},{"t":89.6,"m":0},{"t":100.8,"m":0},{"t":112,"m":1},{"t":123.2,"m":0},{"t":134.4,"m":0},{"t":145.6,"m":0},{"t":156.8,"m":0},{"t":168,"m":0}
],
"LP": [
{"t":2,"h":22},{"t":5,"h":21},{"t":8,"h":17},{"t":11,"h":20},{"t":14,"h":12},{"t":17,"h":16},{"t":20,"h":19},{"t":23,"h":21},{"t":26,"h":15},{"t":29,"h":14},{"t":32,"h":17},{"t":35,"h":19},{"t":38,"h":21},{"t":41,"h":19},{"t":44,"h":18},{"t":47,"h":14},{"t":50,"h":15},{"t":53,"h":16},{"t":56,"h":21},{"t":59,"h":19},{"t":62,"h":17},{"t":65,"h":20},{"t":68,"h":16},{"t":71,"h":15},{"t":74,"h":19},{"t":77,"h":17},{"t":80,"h":14},{"t":83,"h":17},{"t":86,"h":15},{"t":89,"h":13},{"t":92,"h":12},{"t":95,"h":15},{"t":98,"h":17},{"t":101,"h":20},{"t":104,"h":21},{"t":107,"h":17},{"t":110,"h":16},{"t":113,"h":18},{"t":116,"h":19},{"t":119,"h":17},{"t":122,"h":18},{"t":125,"h":17},{"t":128,"h":20},{"t":131,"h":19},{"t":134,"h":19},{"t":137,"h":17},{"t":140,"h":20},{"t":143,"h":22},{"t":146,"h":24},{"t":149,"h":18},{"t":152,"h":20},{"t":155,"h":21},{"t":158,"h":29},{"t":161,"h":25},{"t":164,"h":26},{"t":167,"h":23},{"t":170,"h":20},{"t":173,"h":19},{"t":176,"h":22},{"t":179,"h":25},{"t":182,"h":25},{"t":185,"h":19},{"t":188,"h":21},{"t":191,"h":27},{"t":194,"h":23},{"t":197,"h":22},{"t":200,"h":18},{"t":203,"h":16},{"t":206,"h":16},{"t":209,"h":24},{"t":212,"h":22},{"t":215,"h":25},{"t":218,"h":47},{"t":221,"h":30},{"t":224,"h":27},{"t":227,"h":24},{"t":230,"h":24}
],
"RP": [
{"t":-113,"h":42},{"t":-110,"h":37},{"t":-107,"h":40},{"t":-104,"h":37},{"t":-101,"h":42},{"t":-98,"h":39},{"t":-95,"h":42},{"t":-92,"h":39},{"t":-89,"h":37},{"t":-86,"h":55},{"t":-83,"h":48},{"t":-80,"h":42},{"t":-77,"h":35},{"t":-74,"h":42},{"t":-71,"h":40},{"t":-68,"h":42},{"t":-65,"h":37},{"t":-62,"h":40},{"t":-59,"h":39},{"t":-56,"h":35},{"t":-53,"h":32},{"t":-50,"h":42},{"t":-47,"h":39},{"t":-44,"h":42},{"t":-41,"h":37},{"t":-38,"h":32},{"t":-35,"h":34},{"t":-32,"h":30},{"t":-29,"h":40},{"t":-26,"h":37},{"t":-23,"h":42},{"t":-20,"h":40},{"t":-17,"h":48},{"t":-14,"h":57},{"t":-11,"h":54},{"t":-8,"h":44},{"t":-5,"h":50},{"t":-2,"h":44},{"t":1,"h":42},{"t":4,"h":50},{"t":7,"h":57},{"t":10,"h":77},{"t":13,"h":94},{"t":16,"h":100},{"t":19,"h":95},{"t":22,"h":77},{"t":25,"h":57},{"t":28,"h":35},{"t":31,"h":30},{"t":34,"h":20},{"t":37,"h":25},{"t":40,"h":19},{"t":43,"h":25},{"t":46,"h":27},{"t":49,"h":29},{"t":52,"h":34},{"t":55,"h":29},{"t":58,"h":25},{"t":61,"h":25},{"t":64,"h":27},{"t":67,"h":20},{"t":70,"h":24},{"t":73,"h":15},{"t":76,"h":20},{"t":79,"h":20},{"t":82,"h":17},{"t":85,"h":12},{"t":88,"h":12},{"t":91,"h":20},{"t":94,"h":17},{"t":97,"h":19},{"t":100,"h":20},{"t":103,"h":14},{"t":106,"h":17},{"t":109,"h":10},{"t":112,"h":19},{"t":115,"h":17},{"t":118,"h":12},{"t":121,"h":12},{"t":124,"h":15},{"t":127,"h":10},{"t":130,"h":19},{"t":133,"h":12},{"t":136,"h":17},{"t":139,"h":12},{"t":142,"h":9},{"t":145,"h":7},{"t":148,"h":7},{"t":151,"h":12},{"t":154,"h":9},{"t":157,"h":7},{"t":160,"h":10},{"t":163,"h":7},{"t":166,"h":7},{"t":169,"h":9},{"t":171,"h":9}
]
},
"hconcat": [
{"spacing": 0, "vconcat": [
 {"width": 231, "height": 297, "layer": [
  {"data": {"name": "L"}, "mark": {"type": "tick", "orient": "vertical", "size": 4, "thickness": 1.4, "color": "#1c1c1c", "opacity": 1},
   "encoding": {"x": {"field": "t", "type": "quantitative", "scale": {"domain": [0, 231], "nice": false, "zero": false}, "axis": null},
                "y": {"field": "r", "type": "quantitative", "scale": {"domain": [-10.143, 32.286], "reverse": true, "nice": false, "zero": false}, "axis": null}}},
  {"data": {"name": "LT"}, "transform": [{"filter": "datum.m == 0"}], "mark": {"type": "tick", "orient": "vertical", "size": 2.5, "thickness": 1.4, "color": "#1c1c1c", "opacity": 1},
   "encoding": {"x": {"field": "t", "type": "quantitative"}, "y": {"datum": 31.3, "type": "quantitative"}}},
  {"data": {"name": "LT"}, "transform": [{"filter": "datum.m == 1"}], "mark": {"type": "tick", "orient": "vertical", "size": 7, "thickness": 1.4, "color": "#1c1c1c", "opacity": 1},
   "encoding": {"x": {"field": "t", "type": "quantitative"}, "y": {"datum": 31.3, "type": "quantitative"}}}
 ]},
 {"width": 231, "height": 100, "data": {"name": "LP"},
  "mark": {"type": "area", "interpolate": "step-after", "color": "#1a1a1a", "opacity": 1},
  "encoding": {"x": {"field": "t", "type": "quantitative", "scale": {"domain": [0, 231], "nice": false, "zero": false}, "axis": null},
               "y": {"field": "h", "type": "quantitative", "scale": {"domain": [0, 100], "nice": false}, "axis": null}}}
]},
{"spacing": 0, "vconcat": [
 {"width": 285, "height": 297, "layer": [
  {"data": {"values": [{}]}, "mark": {"type": "rule", "color": "#7a7a7a", "strokeWidth": 1.6, "strokeDash": [6, 3]},
   "encoding": {"x": {"datum": 0, "type": "quantitative", "scale": {"domain": [-114, 171], "nice": false, "zero": false}, "axis": null},
                "y": {"datum": -1.3, "type": "quantitative", "scale": {"domain": [-10.143, 32.286], "reverse": true, "nice": false, "zero": false}, "axis": null},
                "y2": {"datum": 32.286}}},
  {"data": {"name": "R"}, "mark": {"type": "tick", "orient": "vertical", "size": 4, "thickness": 1.4, "color": "#1c1c1c", "opacity": 1},
   "encoding": {"x": {"field": "t", "type": "quantitative"}, "y": {"field": "r", "type": "quantitative"}}},
  {"data": {"name": "RE"}, "mark": {"type": "tick", "orient": "vertical", "size": 8, "thickness": 2.8, "color": "#111111", "opacity": 1},
   "encoding": {"x": {"field": "t", "type": "quantitative"}, "y": {"field": "r", "type": "quantitative"}}},
  {"data": {"name": "RT"}, "transform": [{"filter": "datum.m == 0"}], "mark": {"type": "tick", "orient": "vertical", "size": 2.5, "thickness": 1.4, "color": "#1c1c1c", "opacity": 1},
   "encoding": {"x": {"field": "t", "type": "quantitative"}, "y": {"datum": 31.3, "type": "quantitative"}}},
  {"data": {"name": "RT"}, "transform": [{"filter": "datum.m == 1"}], "mark": {"type": "tick", "orient": "vertical", "size": 7, "thickness": 1.4, "color": "#1c1c1c", "opacity": 1},
   "encoding": {"x": {"field": "t", "type": "quantitative"}, "y": {"datum": 31.3, "type": "quantitative"}}},
  {"data": {"values": [{"s": "Target and"}]}, "mark": {"type": "text", "font": "Liberation Sans", "fontSize": 20.5, "color": "#505050", "align": "center", "baseline": "alphabetic"},
   "encoding": {"x": {"datum": 0, "type": "quantitative"}, "y": {"datum": -6.43, "type": "quantitative"}, "text": {"field": "s"}}},
  {"data": {"values": [{"s": "go cue"}]}, "mark": {"type": "text", "font": "Liberation Sans", "fontSize": 20.5, "color": "#505050", "align": "center", "baseline": "alphabetic"},
   "encoding": {"x": {"datum": 0, "type": "quantitative"}, "y": {"datum": -3.14, "type": "quantitative"}, "text": {"field": "s"}}}
 ]},
 {"width": 285, "height": 100, "layer": [
  {"data": {"values": [{}]}, "mark": {"type": "rule", "color": "#7a7a7a", "strokeWidth": 1.6, "strokeDash": [6, 3]},
   "encoding": {"x": {"datum": 0, "type": "quantitative", "scale": {"domain": [-114, 171], "nice": false, "zero": false}, "axis": null}}},
  {"data": {"name": "RP"}, "mark": {"type": "area", "interpolate": "step-after", "color": "#1a1a1a", "opacity": 1},
   "encoding": {"x": {"field": "t", "type": "quantitative"},
                "y": {"field": "h", "type": "quantitative", "scale": {"domain": [0, 100], "nice": false}, "axis": null}}}
 ]}
]}
]
}
